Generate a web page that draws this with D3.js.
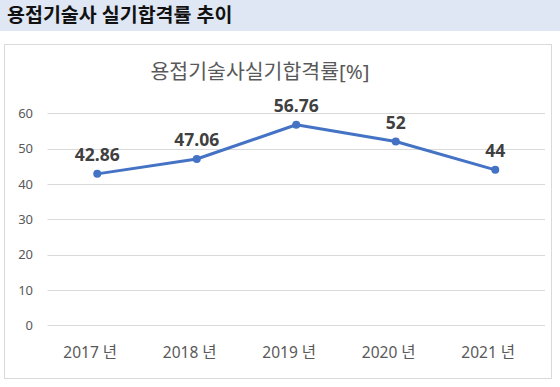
<!DOCTYPE html>
<html>
<head>
<meta charset="utf-8">
<script src="https://cdn.jsdelivr.net/npm/d3@7"></script>
<style>
  body { margin: 0; background: #fff; }
  svg { display: block; font-family: "Noto Sans", "Noto Sans CJK KR", sans-serif; }
</style>
</head>
<body>
<div id="chart"></div>
<script>
const years = ["2017 년", "2018 년", "2019 년", "2020 년", "2021 년"];
const passRates = [42.86, 47.06, 56.76, 52, 44];
const rateLabels = ["42.86", "47.06", "56.76", "52", "44"];
const yTicks = [0, 10, 20, 30, 40, 50, 60];

const width = 560, height = 387;
const svg = d3.select("#chart").append("svg")
    .attr("width", width)
    .attr("height", height);

// header band
svg.append("rect")
    .attr("x", 0).attr("y", 0)
    .attr("width", width).attr("height", 31)
    .attr("fill", "#dfe7f4");
svg.append("text")
    .attr("x", 7).attr("y", 22)
    .attr("font-size", 19.5)
    .attr("font-weight", "bold")
    .attr("fill", "#111")
    .text("용접기술사 실기합격률 추이");

// chart frame
svg.append("rect")
    .attr("x", 4.5).attr("y", 44.5)
    .attr("width", 547).attr("height", 334)
    .attr("fill", "#fff")
    .attr("stroke", "#d9d9d9");

svg.append("text")
    .attr("x", 260).attr("y", 79)
    .attr("text-anchor", "middle")
    .attr("font-size", 20.5)
    .attr("fill", "#595959")
    .text("용접기술사실기합격률[%]");

const x = d3.scaleBand().domain(years).range([47.5, 545]);
const y = d3.scaleLinear().domain([0, 60]).range([325.3, 113.3]);

// gridlines + y labels
const grid = svg.append("g");
grid.selectAll("line")
    .data(yTicks)
    .join("line")
    .attr("x1", 47.5).attr("x2", 545)
    .attr("y1", d => Math.round(y(d)) + 0.5)
    .attr("y2", d => Math.round(y(d)) + 0.5)
    .attr("stroke", "#d9d9d9");
grid.selectAll("text")
    .data(yTicks)
    .join("text")
    .attr("x", 33)
    .attr("y", d => y(d))
    .attr("dy", "0.35em")
    .attr("text-anchor", "end")
    .attr("font-size", 13)
    .attr("fill", "#595959")
    .text(d => d);

// x labels
svg.append("g").selectAll("text")
    .data(years)
    .join("text")
    .attr("x", d => x(d) + x.bandwidth() / 2 - 7)
    .attr("y", 353)
    .attr("dy", "0.35em")
    .attr("text-anchor", "middle")
    .attr("font-size", 15.5)
    .attr("fill", "#595959")
    .text(d => d);

const pts = years.map((d, i) => ({ year: d, value: passRates[i], label: rateLabels[i] }));
const cx = d => x(d.year) + x.bandwidth() / 2;

svg.append("path")
    .datum(pts)
    .attr("fill", "none")
    .attr("stroke", "#4472c4")
    .attr("stroke-width", 3)
    .attr("stroke-linejoin", "round")
    .attr("d", d3.line().x(cx).y(d => y(d.value)));

svg.append("g").selectAll("circle")
    .data(pts)
    .join("circle")
    .attr("cx", cx)
    .attr("cy", d => y(d.value))
    .attr("r", 4)
    .attr("fill", "#4472c4");

svg.append("g").selectAll("text")
    .data(pts)
    .join("text")
    .attr("x", cx)
    .attr("y", d => y(d.value) - 19)
    .attr("dy", "0.35em")
    .attr("text-anchor", "middle")
    .attr("font-size", 17.5)
    .attr("font-weight", "bold")
    .attr("fill", "#404040")
    .text(d => d.label);
</script>
</body>
</html>
